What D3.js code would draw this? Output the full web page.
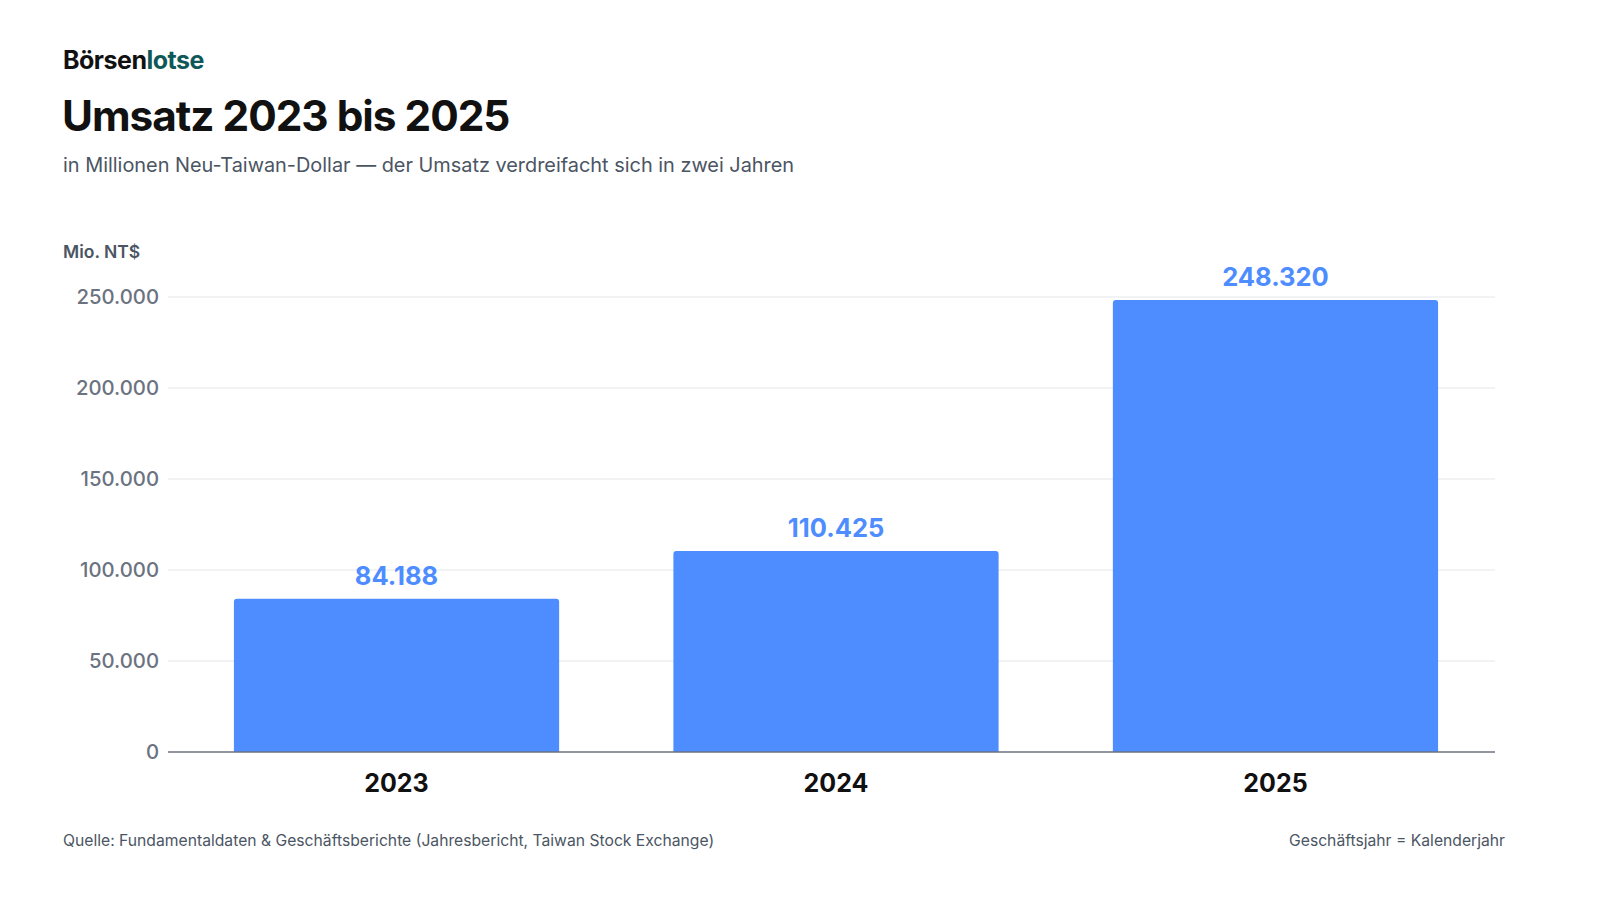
<!DOCTYPE html>
<html lang="de">
<head>
    <meta charset="UTF-8">
    <title>Umsatz 2023 bis 2025</title>
    <script src="https://d3js.org/d3.v7.min.js"></script>
    <style>
        body { margin: 0; background: #fff; font-family: Inter, "Noto Sans", sans-serif; }
        .tick-label { font-size: 20.3px; font-weight: 500; fill: #6b7280; }
        .bar-label { font-size: 25.5px; font-weight: 700; fill: #4d8dff; text-anchor: middle; }
        .year-label { font-size: 25px; font-weight: 700; fill: #111; text-anchor: middle; }
    </style>
</head>
<body>
    <svg width="1600" height="900"></svg>
    <script>
        // Daten
        const jahre = ["2023", "2024", "2025"];
        const umsatz = [84188, 110425, 248320];
        const yTicks = [0, 50000, 100000, 150000, 200000, 250000];

        const svg = d3.select("svg");
        const fmt = v => d3.format(",")(v).replace(/,/g, ".");

        // Kopf
        const logo = svg.append("text").attr("x", 63).attr("y", 69)
            .style("font-size", "25px").style("font-weight", 700).style("letter-spacing", "-0.5px");
        logo.append("tspan").attr("fill", "#111").text("Börsen");
        logo.append("tspan").attr("fill", "#0f5858").text("lotse");

        svg.append("text").attr("x", 62).attr("y", 131)
            .style("font-size", "42.3px").style("font-weight", 700).style("letter-spacing", "-1px")
            .attr("fill", "#111").text("Umsatz 2023 bis 2025");

        svg.append("text").attr("x", 63).attr("y", 172)
            .style("font-size", "19.9px").attr("fill", "#4b5563")
            .text("in Millionen Neu-Taiwan-Dollar — der Umsatz verdreifacht sich in zwei Jahren");

        svg.append("text").attr("x", 63).attr("y", 258)
            .style("font-size", "17.5px").style("font-weight", 600).attr("fill", "#4b5563")
            .text("Mio. NT$");

        // Skalen
        const x = d3.scaleBand().domain(jahre).range([168, 1504])
            .paddingInner(0.26).paddingOuter(0.15);
        const y = d3.scaleLinear().domain([0, 250000]).range([752, 297]);

        // Gitter
        svg.append("g").selectAll("line").data(yTicks.filter(d => d > 0)).enter().append("line")
            .attr("x1", 168).attr("x2", 1495)
            .attr("y1", d => y(d)).attr("y2", d => y(d))
            .attr("stroke", "#e5e7eb").attr("stroke-width", 1.2);

        svg.append("g").selectAll("text").data(yTicks).enter().append("text")
            .attr("class", "tick-label")
            .attr("x", 159).attr("y", d => y(d)).attr("dy", "0.35em")
            .attr("text-anchor", "end")
            .text(d => fmt(d));

        // Balken
        const data = jahre.map((j, i) => ({ jahr: j, wert: umsatz[i] }));
        const r = 3;
        svg.append("g").selectAll("path").data(data).enter().append("path")
            .attr("fill", "#4d8dff")
            .attr("d", d => {
                const x0 = x(d.jahr), w = x.bandwidth(), y0 = y(d.wert), y1 = y(0);
                return `M${x0},${y1}V${y0 + r}Q${x0},${y0} ${x0 + r},${y0}H${x0 + w - r}Q${x0 + w},${y0} ${x0 + w},${y0 + r}V${y1}Z`;
            });

        svg.append("g").selectAll("text").data(data).enter().append("text")
            .attr("class", "bar-label")
            .attr("x", d => x(d.jahr) + x.bandwidth() / 2)
            .attr("y", d => y(d.wert) - 14)
            .text(d => fmt(d.wert));

        // Achse
        svg.append("line").attr("x1", 168).attr("x2", 1495)
            .attr("y1", y(0)).attr("y2", y(0))
            .attr("stroke", "#6b7280").attr("stroke-width", 1.6);

        svg.append("g").selectAll("text").data(jahre).enter().append("text")
            .attr("class", "year-label")
            .attr("x", d => x(d) + x.bandwidth() / 2)
            .attr("y", 792)
            .text(d => d);

        // Fuss
        svg.append("text").attr("x", 63).attr("y", 846)
            .style("font-size", "15.7px").attr("fill", "#4b5563")
            .text("Quelle: Fundamentaldaten & Geschäftsberichte (Jahresbericht, Taiwan Stock Exchange)");
        svg.append("text").attr("x", 1505).attr("y", 846).attr("text-anchor", "end")
            .style("font-size", "15.7px").attr("fill", "#4b5563")
            .text("Geschäftsjahr = Kalenderjahr");
    </script>
</body>
</html>
